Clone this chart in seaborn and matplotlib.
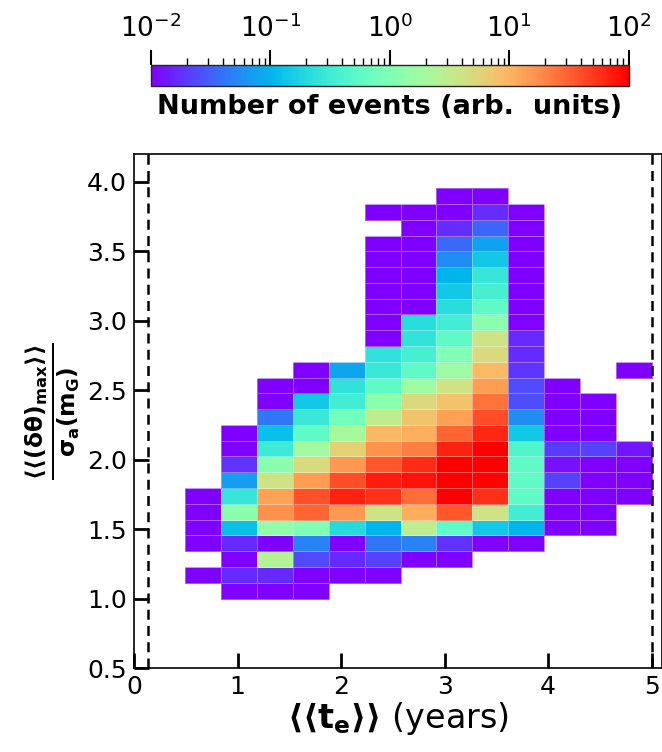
import numpy as np
import matplotlib
matplotlib.use('Agg')
import matplotlib.pyplot as plt
from matplotlib.colors import LogNorm
import seaborn as sns

# bin layout of the 2D histogram
x_edges = np.linspace(0.496, 5.0, 14)
y_edges = np.linspace(1.0, 3.954, 27)

# number of events per cell (arb. units), rows listed from top (y high) to bottom
P = 0.01
counts_top_down = [
    [0, 0, 0, 0, 0, 0, 0, P, P, 0, 0, 0, 0],
    [0, 0, 0, 0, 0, P, P, P, 0.017, P, 0, 0, 0],
    [0, 0, 0, 0, 0, 0, P, 0.017, 0.033, P, 0, 0, 0],
    [0, 0, 0, 0, 0, P, P, 0.035, 0.075, P, 0, 0, 0],
    [0, 0, 0, 0, 0, P, P, 0.055, 0.14, P, 0, 0, 0],
    [0, 0, 0, 0, 0, P, P, 0.1, 0.27, P, 0, 0, 0],
    [0, 0, 0, 0, 0, P, P, 0.14, 0.36, P, 0, 0, 0],
    [0, 0, 0, 0, 0, P, P, 0.22, 0.55, P, 0, 0, 0],
    [0, 0, 0, 0, 0, P, 0.22, 0.33, 1.2, P, 0, 0, 0],
    [0, 0, 0, 0, 0, P, 0.25, 0.55, 4, 0.016, 0, 0, 0],
    [0, 0, 0, 0, 0, 0.24, 0.36, 1.0, 5, 0.016, 0, 0, 0],
    [0, 0, 0, P, 0.08, 0.28, 0.55, 1.7, 9, 0.019, 0, 0, P],
    [0, 0, P, P, 0.24, 0.55, 1.7, 4, 14, 0.024, P, 0, 0],
    [0, 0, P, 0.14, 0.33, 1.2, 5, 7.5, 25, 0.025, P, P, 0],
    [0, 0, 0.042, 0.28, 0.8, 3, 7.5, 13, 40, 0.055, P, P, 0],
    [0, P, 0.12, 0.55, 2, 9, 11, 30, 63, 0.14, P, P, 0],
    [0, P, 0.3, 1.9, 6, 16, 22, 67, 100, 0.44, 0.02, 0.022, 0.013],
    [0, 0.018, 1.2, 5, 15, 36, 60, 100, 100, 0.55, 0.012, P, P],
    [0, 0.07, 4, 14, 40, 72, 80, 100, 95, 0.55, 0.022, P, P],
    [P, 0.27, 13, 38, 67, 55, 27, 100, 57, 0.55, P, P, P],
    [P, 1.2, 17, 30, 15, 4, 11, 36, 4, 0.33, P, P, 0],
    [P, 0.12, 1.4, 1.0, 0.2, 0.1, 3, 0.55, 0.14, 0.1, P, P, 0],
    [P, 0.016, P, 0.05, P, 0.042, 0.05, 0.018, P, P, 0, 0, 0],
    [0, P, 2.5, 0.024, 0.016, 0.022, P, P, 0, 0, 0, 0, 0],
    [P, 0.016, 0.016, P, P, P, 0, 0, 0, 0, 0, 0, 0],
    [0, P, P, P, 0, 0, 0, 0, 0, 0, 0, 0, 0],
]

# dashed markers on the time axis
t_lines = [0.135, 5.0]

xticks = [0, 1, 2, 3, 4, 5]
yticks = [0.5, 1.0, 1.5, 2.0, 2.5, 3.0, 3.5, 4.0]


def cell_table(counts, xe, ye):
    grid = np.array(counts)[::-1]  # bottom row first
    xc = (xe[:-1] + xe[1:]) / 2
    yc = (ye[:-1] + ye[1:]) / 2
    xx, yy = np.meshgrid(xc, yc)
    keep = grid > 0
    return xx[keep], yy[keep], grid[keep]


sns.set_style('white')
plt.rcParams['font.family'] = ['DejaVu Sans']
plt.rcParams['mathtext.fontset'] = 'dejavusans'
for key in ['text.color', 'axes.labelcolor', 'xtick.color', 'ytick.color']:
    plt.rcParams[key] = 'black'

fig = plt.figure(figsize=(6.62, 7.52), dpi=100)
ax = fig.add_axes([0.2024, 0.1117, 0.7976, 0.6835])
cax = fig.add_axes([0.228, 0.8856, 0.722, 0.028])

xs, ys, ws = cell_table(counts_top_down, x_edges, y_edges)
sns.histplot(x=xs, y=ys, weights=ws, bins=[x_edges, y_edges], cmap='rainbow',
             ax=ax, cbar=False, edgecolor=(1, 1, 1, 0.35), linewidth=0.5)
mesh = ax.collections[-1]
mesh.set_norm(LogNorm(vmin=1e-2, vmax=1e2))

for t in t_lines:
    ax.axvline(t, color='black', linestyle=(0, (4, 2.5)), linewidth=1.8)

ax.set_xlim(0, 5.1)
ax.set_ylim(0.5, 4.2)
ax.set_xticks(xticks)
ax.set_yticks(yticks)
ax.tick_params(direction='in', length=11, width=2, labelsize=18, pad=5,
               bottom=True, left=True, top=False, right=False)
for s in ax.spines.values():
    s.set_linewidth(1.2)
    s.set_color('black')

ax.set_xlabel(r'$\mathbf{\langle\langle t_e\rangle\rangle}$ (years)', fontsize=24, labelpad=1)
ax.set_ylabel(r'$\mathbf{\frac{\langle\langle(\delta\theta)_{max}\rangle\rangle}{\sigma_a(m_G)}}$',
              fontsize=24, labelpad=4)

cbar = fig.colorbar(mesh, cax=cax, orientation='horizontal')
cbar.outline.set_linewidth(1.0)
cax.xaxis.set_ticks_position('top')
cax.xaxis.set_label_position('bottom')
cax.tick_params(which='major', length=11, width=1.5, labelsize=19, pad=5)
cax.tick_params(which='minor', length=5, width=1.0)
cbar.set_label('Number of events (arb.  units)', fontsize=19.5, fontweight='bold', labelpad=6)

fig.savefig('out.png', dpi=100)
